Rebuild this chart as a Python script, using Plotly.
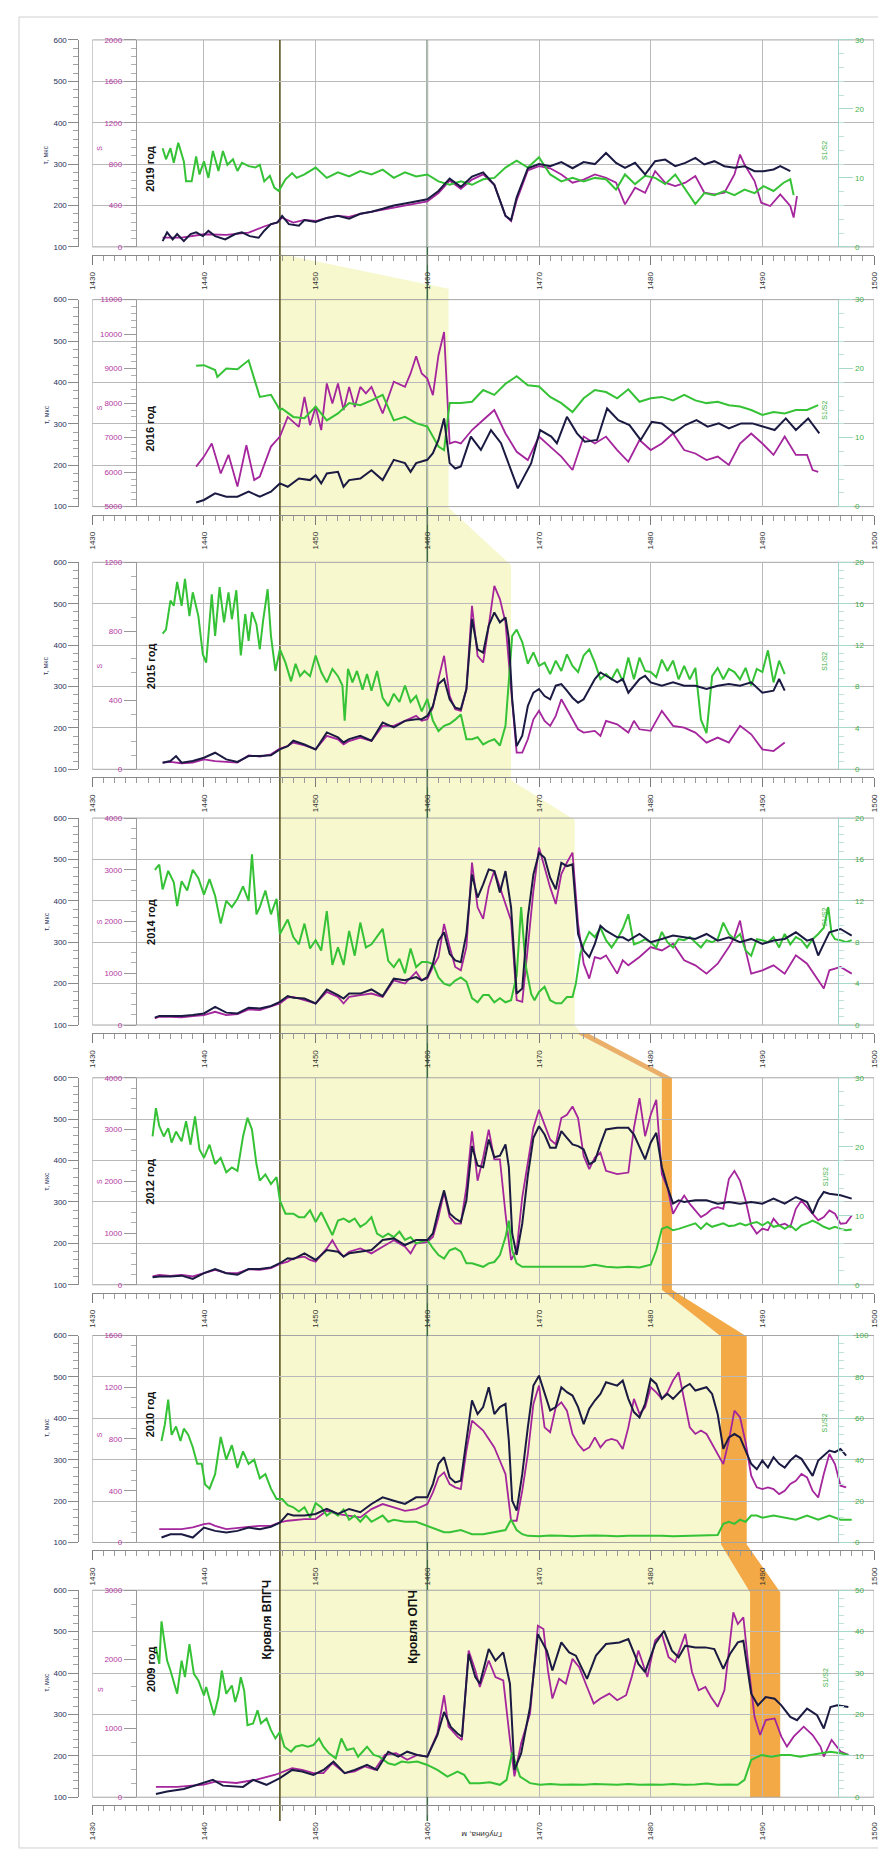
import plotly.graph_objects as go

# ---------------- DATA ----------------
YEARS = ["2019 год", "2016 год", "2015 год", "2014 год", "2012 год", "2010 год", "2009 год"]
S_RANGES = [(0, 2000), (5000, 11000), (0, 1200), (0, 4000), (0, 4000), (0, 1600), (0, 3000)]
S_DTICK = [400, 1000, 400, 1000, 1000, 400, 1000]
G_MAX = [30, 30, 20, 20, 30, 100, 50]
G_DTICK = [10, 10, 4, 4, 10, 20, 10]
TAU_RANGE = (100, 600)
X_RANGE = (1430, 1500)
TOP_VPGCH = 1446.8   # Кровля ВПГЧ
TOP_OPCH = 1460.0    # Кровля ОПЧ

# (depth, tau) navy ; (depth, S) magenta ; (depth, S1/S2) green
T19 = [(1436.3,114),(1436.7,135),(1437.2,118),(1437.6,131),(1438.2,114),(1438.8,131),(1439.3,135),(1439.9,126),(1440.4,139),(1441.0,126),(1441.9,118),(1442.8,131),(1443.4,135),(1444.1,126),(1444.9,122),(1445.4,139),(1446.0,155),(1446.6,159),(1447.0,175),(1447.6,155),(1448.5,151),(1449,165),(1450,160),(1451,170),(1452,175),(1453,168),(1454,180),(1455,185),(1456,192),(1457,200),(1458,205),(1459,210),(1460,215),(1461,235),(1462,265),(1463,245),(1464,270),(1465,280),(1466,250),(1467,175),(1467.5,165),(1468,220),(1469,290),(1470,300),(1471,295),(1472,305),(1473,290),(1474,305),(1475,300),(1476.0,327),(1476.9,303),(1477.7,291),(1478.6,303),(1479.5,275),(1480.4,307),(1481.3,311),(1482.2,295),(1483.1,303),(1484.0,315),(1484.8,299),(1485.7,307),(1486.6,295),(1487.5,291),(1488.4,295),(1489.3,283),(1490.1,283),(1491.0,287),(1491.6,295),(1492.5,283)]
M19 = [(1436.3,90),(1438,90),(1440,122),(1442,116),(1444,138),(1445.5,202),(1446.5,234),(1447,282),(1448,234),(1449,260),(1450,250),(1451,280),(1452,300),(1453,290),(1454,320),(1455,340),(1456,360),(1457,380),(1458,400),(1459,420),(1460,440),(1461,520),(1462,640),(1463,560),(1464,650),(1465,700),(1466,600),(1467,300),(1467.5,250),(1468,450),(1469,740),(1470,780),(1471,760),(1472,700),(1473,620),(1474,650),(1475,700),(1476.0,668),(1476.9,620),(1477.7,411),(1478.6,571),(1479.5,523),(1480.4,732),(1481.3,620),(1482.2,587),(1483.1,620),(1484.0,684),(1484.8,523),(1485.7,507),(1486.6,523),(1487.5,700),(1488.0,892),(1488.4,796),(1489.3,636),(1489.9,427),(1490.7,395),(1491.6,507),(1492.5,395),(1492.8,283),(1493.1,491)]
G19 = [(1436.3,14.3),(1436.6,12.7),(1437.0,14.3),(1437.3,12.2),(1437.7,15.1),(1438.2,12.4),(1438.4,9.5),(1438.9,9.5),(1439.3,13.1),(1439.6,10.5),(1440.0,12.4),(1440.4,10.0),(1440.8,13.9),(1441.3,11.0),(1441.7,13.9),(1442.1,11.9),(1442.6,12.7),(1443.0,11.0),(1443.4,12.2),(1444.0,11.7),(1444.6,11.5),(1445.0,11.9),(1445.4,9.5),(1445.9,10.3),(1446.3,8.6),(1446.7,8.1),(1447.3,9.8),(1447.9,10.7),(1448.3,10.0),(1449,10.5),(1450,11.5),(1451,10.0),(1452,10.8),(1453,10.2),(1454,11.0),(1455,10.5),(1456,11.2),(1457,10.0),(1458,10.8),(1459,10.2),(1460,10.5),(1461,9.5),(1462,9.0),(1463,9.5),(1464,9.0),(1465,9.8),(1466,10.0),(1467,11.5),(1467.5,12.0),(1468,12.5),(1469,11.5),(1470,13.0),(1471,10.5),(1472,9.5),(1473,10.0),(1474,9.5),(1475,10.0),(1476.0,9.8),(1476.9,8.3),(1477.7,10.5),(1478.6,9.1),(1479.5,10.3),(1480.4,10.0),(1481.3,9.1),(1482.2,10.5),(1483.1,8.3),(1484.0,6.2),(1484.8,7.8),(1485.7,7.5),(1486.6,8.1),(1487.5,7.5),(1488.4,8.3),(1489.3,7.8),(1490.1,8.8),(1491.0,8.1),(1491.9,9.3),(1492.5,9.8),(1492.8,7.5)]

T16 = [(1439.3,110),(1440,116),(1441,132),(1442,124),(1443,124),(1444,136),(1445,124),(1446,136),(1446.8,156),(1447.5,148),(1448.5,168),(1449.5,164),(1450,176),(1450.5,156),(1451,180),(1452,184),(1452.5,148),(1453,164),(1454,168),(1455,188),(1456,164),(1457,213),(1458,205),(1458.5,184),(1459,205),(1460,213),(1460.5,229),(1461,261),(1461.5,313),(1462,205),(1462.5,192),(1463,197),(1463.9,269),(1464.8,237),(1465.7,285),(1466.6,253),(1468.1,144),(1469.3,205),(1470.1,285),(1471.1,269),(1471.6,253),(1472.5,317),(1473.4,277),(1474.1,257),(1475.2,261),(1476.1,337),(1477.1,309),(1478.1,297),(1479.1,261),(1480.1,305),(1481.0,301),(1482.1,277),(1483.1,297),(1484.1,309),(1485.1,293),(1486.1,301),(1487.0,289),(1488.1,301),(1489.1,301),(1490.1,293),(1491.1,285),(1492.1,313),(1493.0,285),(1494.1,313),(1495.1,277)]
M16 = [(1439.3,6160),(1440,6450),(1440.7,6830),(1441.5,5960),(1442.2,6500),(1443,5580),(1443.8,6780),(1444.5,5770),(1445,5870),(1446,6740),(1446.8,7030),(1447.5,7600),(1448.5,7310),(1449,8180),(1449.5,7360),(1450,7890),(1450.5,7220),(1451,8570),(1451.5,7990),(1452,8570),(1452.5,7800),(1453,8470),(1453.5,7890),(1454,8470),(1454.5,8280),(1455,8470),(1456,7700),(1457,8620),(1458,8470),(1458.5,8860),(1459,9360),(1459.5,8860),(1460,8710),(1460.5,8230),(1461,9390),(1461.5,10060),(1462,6830),(1462.5,6880),(1463,6830),(1464,7220),(1465,7510),(1466,7800),(1467,7120),(1468,6590),(1469,6350),(1470,7030),(1471,6740),(1472,6450),(1473,6060),(1474,7030),(1475,6830),(1476,7030),(1477,6640),(1478,6300),(1479,6930),(1480,6640),(1481,6830),(1482,7120),(1483,6640),(1484,6540),(1485,6350),(1486,6450),(1487,6210),(1488,6830),(1489,7120),(1490,6830),(1491,6500),(1492,7030),(1493,6500),(1494,6500),(1494.5,6060),(1495,6010)]
G16 = [(1439.3,20.4),(1440,20.5),(1441,19.8),(1441.2,18.8),(1442,20.0),(1443,19.9),(1444,21.2),(1445,15.9),(1446,16.2),(1446.8,14.0),(1447,14.2),(1448,13.0),(1449,12.8),(1450,14.5),(1451,12.5),(1452,13.5),(1453,15.0),(1454,14.7),(1455,15.4),(1456,16.2),(1457,12.5),(1458,13.0),(1459,12.1),(1460,11.6),(1461,8.7),(1461.5,8.2),(1462,15.0),(1463,15.0),(1464,15.2),(1465,16.9),(1466,16.2),(1467,17.8),(1468,18.9),(1469,17.6),(1470,17.4),(1471,15.9),(1472,15.0),(1473,13.7),(1474,15.7),(1475,16.9),(1476,16.6),(1477,15.7),(1478,17.0),(1479,15.2),(1480,15.7),(1481,15.9),(1482,15.4),(1483,16.2),(1484,15.4),(1485,15.0),(1486,15.2),(1487,14.7),(1488,14.5),(1489,14.0),(1490,13.3),(1491,13.7),(1492,13.5),(1493,14.0),(1494,14.0),(1495,14.7)]

T15 = [(1436.3,116),(1437,120),(1437.5,132),(1438,116),(1439,120),(1440,128),(1441,140),(1442,124),(1443,118),(1444,132),(1445,132),(1446,134),(1446.8,148),(1447.5,156),(1448,169),(1449,160),(1450,148),(1451,189),(1452,177),(1452.5,165),(1453,173),(1454,181),(1455,169),(1456,213),(1457,201),(1458,217),(1459,221),(1459.5,221),(1460,229),(1460.5,253),(1461,306),(1461.5,318),(1462,269),(1462.5,249),(1463,245),(1463.5,294),(1464,463),(1464.5,390),(1465,382),(1465.5,447),(1466,479),(1466.5,455),(1467,467),(1467.3,415),(1467.6,269),(1468,156),(1468.5,181),(1469,253),(1469.5,285),(1470,294),(1470.5,277),(1471,269),(1471.5,302),(1472,306),(1472.5,290),(1473,273),(1473.5,261),(1474,269),(1475,318),(1475.5,334),(1476,326),(1477,310),(1477.5,318),(1478,285),(1479,318),(1479.5,326),(1480,310),(1481,302),(1482,310),(1483,302),(1484,302),(1485,294),(1486,302),(1487,306),(1488,302),(1489,310),(1490,285),(1491,290),(1491.5,318),(1492,290)]
M15 = [(1436.3,39),(1437,43),(1438,35),(1439,39),(1440,58),(1441,48),(1442,43),(1443,39),(1444,81),(1445,74),(1446,87),(1446.8,120),(1447.5,135),(1448,155),(1449,139),(1450,116),(1451,194),(1452,174),(1452.5,145),(1453,164),(1454,184),(1455,164),(1456,252),(1457,252),(1458,281),(1459,310),(1459.5,281),(1460,290),(1460.5,358),(1461,523),(1461.5,658),(1462,426),(1462.5,348),(1463,339),(1463.5,464),(1464,948),(1464.5,658),(1465,619),(1465.5,832),(1466,1064),(1466.5,987),(1467,852),(1467.5,464),(1468,97),(1468.5,97),(1469,174),(1469.5,290),(1470,339),(1470.5,281),(1471,252),(1471.5,310),(1472,406),(1472.5,348),(1473,290),(1473.5,232),(1474,213),(1475,223),(1475.5,194),(1476,281),(1477,261),(1478,213),(1478.5,281),(1479,232),(1480,223),(1481,339),(1482,252),(1483,242),(1484,213),(1485,155),(1486,184),(1487,155),(1488,252),(1489,203),(1490,116),(1491,106),(1492,155)]
G15 = [(1436.3,13.1),(1436.6,13.5),(1437,16.3),(1437.3,15.8),(1437.6,18.1),(1438,15.8),(1438.3,18.4),(1438.7,14.8),(1439,17.1),(1439.5,14.8),(1439.9,11.1),(1440.2,10.3),(1440.7,16.9),(1441,12.9),(1441.4,17.6),(1441.8,14.2),(1442.2,17.1),(1442.5,14.5),(1442.9,17.3),(1443.3,11.0),(1443.7,15.0),(1444,12.4),(1444.3,15.2),(1444.7,14.0),(1445,11.6),(1445.3,14.4),(1445.7,17.4),(1446,12.9),(1446.4,9.5),(1446.8,11.6),(1447.3,10.3),(1447.8,8.5),(1448.2,10.2),(1448.6,9.0),(1449,9.5),(1449.5,9.0),(1450,11.0),(1450.5,9.4),(1451,8.4),(1451.5,9.7),(1452,9.0),(1452.4,8.1),(1452.6,4.7),(1452.9,9.7),(1453.3,8.4),(1453.7,9.5),(1454.2,7.7),(1454.6,9.2),(1455,7.6),(1455.5,9.5),(1456,6.9),(1456.5,6.1),(1457,7.3),(1457.5,6.5),(1458,8.1),(1458.5,6.5),(1459,7.1),(1459.5,5.6),(1460,6.8),(1460.5,4.7),(1461,3.7),(1461.5,4.2),(1462,4.4),(1462.5,4.8),(1463,5.3),(1463.5,2.9),(1464,2.9),(1464.5,3.1),(1465,2.4),(1465.5,2.7),(1466,2.9),(1466.5,2.3),(1467,4.2),(1467.3,8.7),(1467.6,12.9),(1468,13.5),(1468.5,12.3),(1469,10.2),(1469.5,11.3),(1470,10.0),(1470.5,10.3),(1471,9.2),(1471.5,10.5),(1472,9.5),(1472.5,11.1),(1473,10.0),(1473.5,9.4),(1474,11.0),(1474.5,11.6),(1475,10.3),(1475.5,8.7),(1476,9.2),(1476.5,8.7),(1477,9.7),(1477.5,8.5),(1478,10.8),(1478.5,8.7),(1479,10.8),(1479.5,9.5),(1480,9.4),(1480.5,8.9),(1481,10.6),(1481.5,9.5),(1482,10.5),(1482.5,8.7),(1483,10.0),(1483.5,8.7),(1484,9.8),(1484.5,4.8),(1485,3.5),(1485.5,9.0),(1486,9.8),(1486.5,8.7),(1487,9.7),(1487.5,9.4),(1488,8.7),(1488.5,9.8),(1489,8.1),(1489.5,9.7),(1490,9.4),(1490.5,11.5),(1491,8.4),(1491.5,10.5),(1492,9.2)]

T14 = [(1435.6,118),(1436,122),(1437,122),(1438,122),(1439,124),(1440,128),(1441,144),(1442,130),(1443,128),(1444,142),(1445,140),(1446,146),(1446.8,156),(1447.5,170),(1448,166),(1449,164),(1450,152),(1451,186),(1452,172),(1452.5,164),(1453,176),(1454,176),(1455,186),(1456,170),(1457,212),(1458,208),(1459,216),(1459.5,208),(1460,216),(1460.5,248),(1461,304),(1461.5,324),(1462,272),(1462.5,256),(1463,252),(1463.5,320),(1464,464),(1464.5,408),(1465,440),(1465.5,476),(1466,472),(1466.5,420),(1467,472),(1467.5,384),(1468,176),(1468.5,188),(1469,360),(1469.5,464),(1470,516),(1470.5,504),(1471,456),(1471.5,428),(1472,492),(1472.5,484),(1473,488),(1473.5,320),(1474,280),(1474.5,264),(1475,296),(1475.5,340),(1476,328),(1477,312),(1477.5,312),(1478,304),(1479,320),(1480,300),(1481,308),(1482,316),(1483,312),(1484,308),(1485,320),(1486,304),(1487,312),(1488,300),(1489,308),(1490,296),(1491,304),(1492,308),(1493,324),(1494,304),(1494.5,308),(1495,268),(1495.5,296),(1496,324),(1497,332),(1498,316)]
M14 = [(1435.6,128),(1436,160),(1437,160),(1438,147),(1439,173),(1440,192),(1441,256),(1442,192),(1443,212),(1444,301),(1445,288),(1446,353),(1446.8,417),(1447.5,532),(1448,545),(1449,481),(1450,417),(1451,641),(1452,545),(1452.5,417),(1453,545),(1454,577),(1455,609),(1456,545),(1457,865),(1458,801),(1459,1026),(1459.5,865),(1460,897),(1460.5,1122),(1461,1314),(1461.5,1955),(1462,1506),(1462.5,1122),(1463,1058),(1463.5,1506),(1464,3141),(1464.5,2276),(1465,2051),(1465.5,2660),(1466,2981),(1466.5,2660),(1467,2340),(1467.5,2019),(1468,481),(1468.5,449),(1469,1506),(1469.5,2596),(1470,3429),(1470.5,3045),(1471,2660),(1471.5,2340),(1472,2917),(1472.5,3141),(1473,3333),(1473.5,1955),(1474,1186),(1474.5,897),(1475,1314),(1475.5,1282),(1476,1346),(1477,994),(1477.5,1250),(1478,1154),(1479,1314),(1480,1506),(1481,1442),(1482,1570),(1483,1250),(1484,1154),(1485,994),(1486,1186),(1487,1506),(1487.5,1699),(1488,2019),(1488.5,1442),(1489,994),(1490,1058),(1491,1154),(1492,994),(1493,1346),(1494,1186),(1495,865),(1495.5,705),(1496,1058),(1497,1122),(1498,994)]
G14 = [(1435.6,15.0),(1436,15.5),(1436.3,13.1),(1436.8,14.9),(1437.3,13.8),(1437.6,11.5),(1438,13.9),(1438.5,13.0),(1439,15.0),(1439.5,14.2),(1440,12.6),(1440.5,14.1),(1441,12.5),(1441.5,9.8),(1442,12.0),(1442.5,11.4),(1443,12.2),(1443.5,13.4),(1444,12.0),(1444.3,16.5),(1444.7,10.7),(1445,11.4),(1445.5,13.0),(1446,10.7),(1446.5,12.2),(1446.8,8.8),(1447.5,10.2),(1448,8.5),(1448.5,7.8),(1449,9.8),(1449.5,7.4),(1450,8.2),(1450.5,7.2),(1451,11.0),(1451.5,5.8),(1452,7.5),(1452.5,5.8),(1453,9.1),(1453.5,6.7),(1454,9.9),(1454.5,7.5),(1455,7.8),(1456,9.3),(1456.5,6.2),(1457,5.6),(1457.5,6.4),(1458,5.0),(1458.5,7.4),(1459,5.6),(1459.5,6.1),(1460,6.1),(1460.5,5.9),(1461,4.6),(1461.5,4.0),(1462,3.8),(1462.5,4.3),(1463,4.6),(1463.5,4.2),(1464,2.6),(1464.5,2.2),(1465,2.9),(1465.5,2.9),(1466,2.2),(1466.5,2.6),(1467,2.2),(1467.5,2.4),(1468,4.8),(1468.4,11.4),(1468.8,5.8),(1469.3,3.0),(1469.6,2.4),(1470,3.2),(1470.5,3.7),(1471,2.4),(1471.5,2.1),(1472,2.1),(1472.5,2.7),(1473,2.7),(1473.3,4.0),(1473.7,6.9),(1474,7.8),(1474.5,9.0),(1475,8.5),(1475.5,9.4),(1476,8.2),(1476.5,7.5),(1477,8.3),(1477.5,9.3),(1478,10.7),(1478.5,7.8),(1479,8.0),(1479.5,8.3),(1480,8.0),(1480.5,7.5),(1481,9.0),(1481.5,8.0),(1482,7.5),(1482.5,8.3),(1483,8.2),(1483.5,8.5),(1484,8.0),(1484.5,7.5),(1485,8.2),(1485.5,8.0),(1486,8.3),(1486.5,9.9),(1487,8.8),(1487.5,8.3),(1488,8.8),(1488.5,7.2),(1489,6.7),(1489.5,8.3),(1490,8.2),(1490.5,8.0),(1491,8.5),(1491.5,7.5),(1492,8.8),(1492.5,7.8),(1493,8.5),(1493.5,8.2),(1494,7.5),(1494.5,8.3),(1495,8.8),(1495.5,9.4),(1495.9,11.4),(1496.2,8.8),(1496.5,8.3),(1497,8.2),(1497.5,8.0),(1498,8.2)]

T12 = [(1435.4,118),(1436,120),(1437,120),(1438,122),(1439,114),(1440,128),(1441,138),(1442,128),(1443,124),(1444,138),(1445,138),(1446,142),(1446.8,152),(1447.5,164),(1448,162),(1449,176),(1450,160),(1451,184),(1452,180),(1452.5,168),(1453,176),(1454,180),(1455,184),(1456,208),(1457,212),(1458,196),(1459,208),(1460,208),(1460.5,224),(1461,280),(1461.5,328),(1462,272),(1462.5,260),(1463,252),(1463.5,304),(1464,435),(1464.5,388),(1465,384),(1465.5,451),(1466,408),(1466.5,412),(1467,439),(1467.3,384),(1467.6,224),(1468,172),(1468.5,248),(1469,364),(1469.5,455),(1470,483),(1470.5,463),(1471,431),(1471.5,431),(1472,471),(1472.5,455),(1473,439),(1473.5,435),(1474,427),(1474.5,391),(1475,399),(1475.5,439),(1476,475),(1477,479),(1478,479),(1478.5,463),(1479,431),(1479.5,403),(1480,443),(1480.5,467),(1481,384),(1481.5,336),(1482,296),(1482.5,304),(1483,300),(1484,304),(1485,304),(1486,296),(1487,300),(1488,296),(1489,300),(1490,296),(1491,308),(1492,296),(1493,312),(1494,300),(1494.5,272),(1495,304),(1495.5,324),(1496,320),(1497,316),(1498,308)]
M12 = [(1435.4,160),(1436,191),(1437,172),(1438,191),(1439,160),(1440,223),(1441,287),(1442,223),(1443,223),(1444,300),(1445,287),(1446,319),(1446.8,402),(1447.5,447),(1448,510),(1449,542),(1449.5,479),(1450,447),(1451,702),(1451.5,861),(1452,670),(1452.5,542),(1453,638),(1454,702),(1455,606),(1456,734),(1457,861),(1458,734),(1458.5,606),(1459,797),(1460,829),(1460.5,925),(1461,1308),(1461.5,1786),(1462,1308),(1462.5,1180),(1463,1180),(1463.5,1882),(1464,2967),(1464.5,2010),(1465,2456),(1465.5,2999),(1466,2424),(1466.5,2424),(1467,1372),(1467.5,479),(1468,670),(1468.5,1691),(1469,2393),(1469.5,3031),(1470,3381),(1470.5,3094),(1471,2807),(1471.5,2712),(1472,3222),(1472.5,3286),(1473,3445),(1473.5,3222),(1474,2488),(1474.5,2233),(1475,2456),(1475.5,2552),(1476,2201),(1477,2137),(1478,2169),(1478.5,3031),(1479,3605),(1479.5,2871),(1480,3286),(1480.5,3573),(1481,2137),(1481.5,1882),(1482,1372),(1482.5,1563),(1483,1723),(1483.5,1563),(1484,1436),(1484.5,1308),(1485,1372),(1485.5,1468),(1486,1500),(1486.5,1468),(1487,2042),(1487.5,2201),(1488,2010),(1488.5,1627),(1489,1148),(1489.5,989),(1490,1085),(1490.5,1053),(1491,1276),(1491.5,1148),(1492,1180),(1492.5,1117),(1493,1468),(1493.5,1627),(1494,1500),(1494.5,1372),(1495,1244),(1495.5,1308),(1496,1436),(1496.5,1372),(1497,1180),(1497.5,1193),(1498,1340)]
G12 = [(1435.4,21.5),(1435.7,25.6),(1436,23.0),(1436.4,21.5),(1436.8,22.7),(1437.1,20.6),(1437.5,22.2),(1438,20.8),(1438.4,23.7),(1438.8,20.3),(1439.2,24.4),(1439.6,19.6),(1440,18.4),(1440.5,20.3),(1441,17.5),(1441.5,18.4),(1442,16.3),(1442.5,17.0),(1443,16.5),(1443.5,21.5),(1443.9,24.2),(1444.3,22.5),(1444.7,17.5),(1445,15.1),(1445.5,16.0),(1446,14.6),(1446.5,15.6),(1446.8,12.2),(1447.3,10.3),(1448,10.3),(1448.5,9.8),(1449,9.8),(1449.5,10.8),(1450,9.1),(1450.5,10.5),(1451,8.9),(1451.5,7.2),(1452,9.3),(1452.5,9.6),(1453,9.1),(1453.5,9.6),(1454,8.4),(1454.5,8.9),(1455,9.8),(1455.5,7.4),(1456,6.9),(1456.5,7.4),(1457,6.9),(1457.5,7.7),(1458,6.5),(1458.5,6.9),(1459,6.0),(1459.5,6.2),(1460,6.5),(1460.5,5.3),(1461,4.3),(1461.5,3.8),(1462,5.0),(1462.5,5.3),(1463,4.8),(1463.5,3.1),(1464,3.1),(1465,2.6),(1465.5,3.1),(1466,3.3),(1466.5,4.3),(1467,6.9),(1467.3,9.3),(1467.6,5.0),(1468,3.1),(1468.5,2.6),(1469,2.6),(1470,2.6),(1471,2.5),(1472,2.6),(1473,2.5),(1474,2.6),(1475,2.9),(1476,2.6),(1477,2.5),(1478,2.6),(1479,2.5),(1480,2.9),(1480.5,5.0),(1481,8.1),(1481.5,8.4),(1482,7.9),(1482.5,8.1),(1483,8.4),(1483.5,8.6),(1484,8.9),(1484.5,8.1),(1485,8.9),(1485.5,8.4),(1486,8.6),(1486.5,8.9),(1487,8.5),(1487.5,8.6),(1488,8.9),(1488.5,8.6),(1489,8.9),(1489.5,9.1),(1490,8.6),(1490.5,9.1),(1491,8.4),(1491.5,8.6),(1492,8.1),(1492.5,8.6),(1493,7.9),(1493.5,8.6),(1494,8.9),(1494.5,9.3),(1495,8.9),(1495.5,8.4),(1496,8.1),(1496.5,8.4),(1497,8.1),(1497.5,7.9),(1498,8.0)]

T10 = [(1436.2,112),(1437,120),(1438,120),(1439,112),(1440,136),(1441,128),(1442,124),(1443,128),(1444,136),(1445,132),(1446,138),(1446.8,148),(1447.5,169),(1448,165),(1449,165),(1450,169),(1451,181),(1452,169),(1453,181),(1454,173),(1455,193),(1456,209),(1457,201),(1458,193),(1459,209),(1460,209),(1460.5,241),(1461,290),(1461.5,306),(1462,257),(1462.5,245),(1463,249),(1463.5,346),(1464,443),(1464.5,410),(1465,427),(1465.5,475),(1466,410),(1466.5,427),(1467,435),(1467.3,346),(1467.6,201),(1468,177),(1468.5,265),(1469,378),(1469.5,479),(1470,503),(1470.5,459),(1471,419),(1471.5,427),(1472,475),(1472.5,463),(1473,455),(1473.5,427),(1474,386),(1474.5,423),(1475,443),(1475.5,459),(1476,487),(1477,479),(1477.5,491),(1478,447),(1478.5,415),(1479,402),(1479.5,435),(1480,495),(1480.5,483),(1481,447),(1481.5,459),(1482,447),(1483,475),(1483.5,483),(1484,467),(1485,475),(1485.5,459),(1486,410),(1486.5,326),(1487,354),(1487.5,362),(1488,354),(1488.5,322),(1489,290),(1489.5,277),(1490,298),(1490.5,281),(1491,306),(1491.5,290),(1492,281),(1492.5,298),(1493,310),(1493.5,302),(1494,281),(1494.5,261),(1495,298),(1495.5,310),(1496,322),(1496.5,318),(1497,326),(1497.5,310)]
M10 = [(1436,103),(1437,103),(1438,103),(1439,116),(1440,142),(1440.5,147),(1441,129),(1442,103),(1443,111),(1444,116),(1445,129),(1446,129),(1446.8,155),(1447.5,168),(1448,173),(1449,181),(1450,181),(1451,245),(1452,219),(1453,206),(1454,194),(1455,258),(1456,297),(1457,271),(1458,245),(1459,258),(1460,297),(1460.5,387),(1461,503),(1461.5,542),(1462,452),(1462.5,426),(1463,413),(1463.5,710),(1464,942),(1464.5,903),(1465,865),(1465.5,800),(1466,735),(1466.5,632),(1467,529),(1467.5,168),(1468,168),(1468.5,400),(1469,684),(1469.5,1071),(1470,1213),(1470.5,890),(1471,852),(1471.5,1045),(1472,1084),(1472.5,1019),(1473,839),(1473.5,761),(1474,710),(1474.5,735),(1475,813),(1475.5,735),(1476,787),(1476.5,800),(1477,787),(1477.5,723),(1478,890),(1478.5,1110),(1479,994),(1479.5,1045),(1480,1200),(1480.5,1161),(1481,1110),(1481.5,1161),(1482,1252),(1482.5,1316),(1483,1110),(1483.5,890),(1484,839),(1484.5,865),(1485,839),(1485.5,761),(1486,684),(1486.5,606),(1487,787),(1487.5,1019),(1488,968),(1488.5,774),(1489,516),(1489.5,426),(1490,413),(1490.5,426),(1491,413),(1491.5,374),(1492,400),(1492.5,452),(1493,477),(1493.5,529),(1494,503),(1494.5,400),(1495,348),(1495.5,529),(1496,684),(1496.5,606),(1497,439),(1497.5,426)]
G10 = [(1436.2,49),(1436.5,57),(1436.8,69),(1437.1,52),(1437.5,56),(1437.9,49),(1438.2,55),(1438.6,52),(1439,46),(1439.4,38),(1439.8,38),(1440.1,28),(1440.5,26),(1441,33),(1441.5,51),(1442,40),(1442.5,47),(1443,36),(1443.5,44),(1444,38),(1444.5,40),(1445,31),(1445.5,33),(1446,26),(1446.5,21),(1447,21),(1447.5,18),(1448,17),(1448.5,15),(1449,17),(1449.5,12),(1450,19),(1450.5,17),(1451,13),(1451.5,15),(1452,13),(1452.5,16),(1453,11),(1453.5,13),(1454,10),(1454.5,13),(1455,10),(1456,13),(1456.5,10),(1457,11),(1458,10),(1459,10),(1460,8),(1461,6),(1461.5,5),(1462,5),(1463,6),(1463.5,5),(1464,4),(1465,4),(1466,5),(1467,6),(1467.5,11),(1468,6),(1468.5,4),(1469,3.2),(1470,3.0),(1471,3.4),(1472,3.2),(1473,3.0),(1474,3.2),(1475,3.4),(1476,3.2),(1477,3.0),(1478,3.2),(1479,3.2),(1480,3.4),(1481,3.2),(1482,3.0),(1483,3.2),(1484,3.2),(1485,3.4),(1486,3.6),(1486.5,9),(1487,10),(1487.5,9),(1488,11),(1488.5,10),(1489,13),(1489.5,13),(1490,12),(1491,13),(1492,12),(1493,11),(1494,13),(1495,11),(1496,13),(1497,11),(1498,11)]

T09 = [(1435.7,108),(1436.7,114),(1438.2,120),(1440.0,134),(1440.8,142),(1441.7,128),(1443.5,125),(1444.4,142),(1445.6,130),(1446.8,146),(1447.9,166),(1448.8,162),(1449.8,154),(1450.7,166),(1451.6,186),(1452.6,158),(1453.5,166),(1454.6,178),(1455.5,166),(1456.5,210),(1457.4,198),(1458.2,210),(1459.1,202),(1460,198),(1460.9,250),(1461.5,306),(1462.1,270),(1462.7,254),(1463.1,246),(1463.7,446),(1464.3,390),(1464.7,374),(1465.5,458),(1466.1,430),(1466.8,450),(1467.4,374),(1467.8,166),(1468.4,206),(1469.2,318),(1469.9,494),(1470.7,454),(1471.2,406),(1472.0,474),(1472.7,450),(1473.3,442),(1474.3,386),(1475.1,442),(1476.0,470),(1477.2,474),(1478.0,482),(1478.9,422),(1479.5,402),(1480.4,470),(1481.2,502),(1481.9,454),(1482.5,438),(1483.1,466),(1484.0,462),(1484.9,462),(1485.7,458),(1486.5,410),(1487.1,446),(1487.8,474),(1488.3,478),(1489.0,350),(1489.6,322),(1490.3,342),(1491.1,338),(1491.7,322),(1492.5,294),(1493.1,286),(1494.0,314),(1494.9,298),(1495.5,266),(1496.1,318),(1496.7,322),(1497.7,318)]
M09 = [(1435.7,149),(1437.6,149),(1440.0,182),(1441.1,230),(1442.9,206),(1444.7,254),(1446.4,326),(1447.9,422),(1448.8,398),(1449.8,350),(1450.7,350),(1451.5,494),(1452.6,350),(1453.5,374),(1454.4,446),(1455.3,398),(1456.2,614),(1457.2,638),(1458.2,542),(1459.1,614),(1460,590),(1460.9,926),(1461.5,1478),(1461.9,1022),(1462.7,878),(1463.1,830),(1463.7,2127),(1464.3,1838),(1464.7,1598),(1465.5,1982),(1466.1,1742),(1466.8,1694),(1467.4,830),(1467.8,302),(1468.4,782),(1469.2,1214),(1469.9,2486),(1470.4,2438),(1470.8,1838),(1471.2,1430),(1471.8,1718),(1472.4,1646),(1473.0,2006),(1473.6,1886),(1474.3,1598),(1474.9,1358),(1475.5,1430),(1476.3,1502),(1477.0,1406),(1477.8,1478),(1478.3,1742),(1478.9,2127),(1479.7,1742),(1480.4,2271),(1481.0,2367),(1481.6,2031),(1482.2,1958),(1483.1,2367),(1483.7,1815),(1484.3,1550),(1484.9,1598),(1485.4,1454),(1486.0,1310),(1486.6,1550),(1487.4,2679),(1487.8,2511),(1488.3,2607),(1488.7,1982),(1489.3,1166),(1489.8,902),(1490.3,1118),(1491.1,1142),(1491.7,878),(1492.2,734),(1492.8,878),(1493.7,1022),(1494.5,902),(1495.2,734),(1495.5,590),(1496.2,830),(1497.0,662),(1497.7,614)]
G09 = [(1435.7,36.2),(1436.0,32.2),(1436.2,42.5),(1436.5,37.4),(1436.7,33.0),(1437.0,30.6),(1437.6,25.0),(1438.0,33.0),(1438.3,29.0),(1438.7,37.0),(1439.1,29.8),(1439.5,28.2),(1440.0,24.6),(1440.2,26.6),(1440.7,21.4),(1440.9,19.8),(1441.3,24.2),(1441.6,30.6),(1442.0,25.0),(1442.5,27.0),(1442.8,23.0),(1443.1,25.8),(1443.3,29.0),(1443.6,25.8),(1443.9,17.4),(1444.4,17.8),(1444.8,21.0),(1445.1,17.8),(1445.6,19.0),(1446.0,16.2),(1446.4,14.2),(1446.8,15.8),(1447.2,12.2),(1447.8,11.0),(1448.2,12.2),(1448.8,12.6),(1449.3,12.2),(1449.8,12.6),(1450.3,14.2),(1450.7,12.2),(1451.2,10.6),(1451.8,9.4),(1452.3,14.2),(1452.8,11.4),(1453.4,11.8),(1453.8,9.8),(1454.6,12.2),(1455.2,10.2),(1455.7,9.8),(1456.5,8.2),(1457.1,7.8),(1457.7,8.6),(1458.3,8.4),(1459.1,8.6),(1460,7.8),(1460.9,6.6),(1461.8,5.0),(1462.7,6.2),(1463.3,5.4),(1463.8,3.4),(1464.7,3.4),(1465.6,3.6),(1466.5,3.0),(1467.1,4.2),(1467.6,10.8),(1468.3,5.0),(1469.2,3.4),(1470.1,3.0),(1471,3.2),(1472,3.0),(1473,3.1),(1474,3.0),(1475,3.2),(1476,3.1),(1477,3.0),(1478,3.2),(1479,3.0),(1480,3.1),(1481,3.0),(1482,3.2),(1483,3.0),(1484,3.1),(1485,3.3),(1486,3.0),(1487,3.1),(1487.8,3.0),(1488.4,4.2),(1489.0,9.0),(1489.9,10.2),(1490.8,9.8),(1491.7,10.2),(1492.5,10.2),(1493.4,9.8),(1494.3,10.2),(1495.2,10.6),(1496.1,11.0),(1497.0,10.6),(1497.7,10.2)]

TAU = [T19, T16, T15, T14, T12, T10, T09]
SVAL = [M19, M16, M15, M14, M12, M10, M09]
GVAL = [G19, G16, G15, G14, G12, G10, G09]

# zone outlines: (depth, pixel row)
YELLOW_ZONE = [(1446.8,243),(1461.9,278),(1461.9,498),(1467.5,556),(1467.5,772),(1473.2,812),(1473.2,1018),(1474.0,1030),(1481.0,1071),(1481.0,1284),(1486.3,1331),(1486.3,1540),(1488.9,1588),(1488.9,1794),(1446.8,1794)]
ORANGE_ZONE = [(1481.0,1071),(1481.9,1071),(1481.9,1284),(1488.6,1331),(1488.6,1540),(1491.6,1588),(1491.6,1794),(1488.9,1794),(1488.9,1588),(1486.3,1540),(1486.3,1331),(1481.0,1284)]
ORANGE_EDGE = [(1473.5,1027),(1474.5,1027),(1481.9,1071),(1481.0,1071)]

# ---------------- LAYOUT GEOMETRY ----------------
W, H = 886, 1849
ML = MR = MT = MB = 10
PW, PHT = W - ML - MR, H - MT - MB
TOPS = [28, 289, 553, 810, 1071, 1330, 1586]
PANEL_H = 208

def fx(px):
    return (px - ML) / PW

def fy(py):
    return (H - MB - py) / PHT

def ax_name(letter, n):
    return f"{letter}axis" if n == 1 else f"{letter}axis{n}"

def ax_ref(letter, n):
    return letter if n == 1 else f"{letter}{n}"

FONT = "Liberation Sans, Arial, sans-serif"
C_TAU = "#1a1a42"
C_S = "#a4259c"
C_G = "#36c236"
C_SLAB = "#b4379f"
C_GLAB = "#3fb24a"
C_TLAB = "#28305a"
GRID = "#b9b9b9"

fig = go.Figure()
layout = dict(
    width=W, height=H,
    margin=dict(l=ML, r=MR, t=MT, b=MB),
    paper_bgcolor="white", plot_bgcolor="rgba(0,0,0,0)",
    showlegend=False, font=dict(family=FONT, size=8, color="#333"),
)
annotations = []
shapes = []

for k in range(7):
    T = TOPS[k]
    B = T + PANEL_H
    xi = k + 1
    ys, yg, yt = 3 * k + 1, 3 * k + 2, 3 * k + 3
    dom = [fy(B), fy(T)]
    layout[ax_name("x", xi)] = dict(
        domain=[fx(81), fx(871)], range=list(X_RANGE), anchor="free", position=fy(B + 8),
        tick0=1430, dtick=10, ticks="outside", ticklen=9, tickcolor="#7a7a7a",
        minor=dict(dtick=1, ticks="outside", ticklen=5, tickcolor="#9a9a9a", showgrid=False),
        showline=True, linecolor="#8a8a8a", linewidth=1,
        showgrid=True, gridcolor=GRID, gridwidth=1, zeroline=False,
        tickangle=-90, tickfont=dict(size=8, color="#333", family=FONT),
        ticklabelstandoff=4, fixedrange=True,
    )
    s0, s1 = S_RANGES[k]
    layout[ax_name("y", ys)] = dict(
        domain=dom, range=[s0, s1], anchor="free", position=fx(125), side="left",
        tick0=s0, dtick=S_DTICK[k], tickformat="d", ticks="outside", ticklen=12, tickcolor="#9a9a9a",
        minor=dict(dtick=S_DTICK[k] / 5, ticks="outside", ticklen=5, tickcolor="#b0b0b0"),
        showline=True, linecolor="#9a9a9a", showgrid=False, zeroline=False,
        tickfont=dict(size=8, color=C_SLAB, family=FONT), fixedrange=True,
    )
    layout[ax_name("y", yg)] = dict(
        overlaying=ax_ref("y", ys), range=[0, G_MAX[k]], anchor="free", position=fx(835),
        side="right", tick0=0, dtick=G_DTICK[k], tickformat="d", ticks="outside", ticklen=14,
        tickcolor="#a8d8cc",
        minor=dict(dtick=G_DTICK[k] / 5, ticks="outside", ticklen=5, tickcolor="#bfe3da"),
        showline=True, linecolor="#9fd6c9", showgrid=False, zeroline=False,
        tickfont=dict(size=8, color=C_GLAB, family=FONT), fixedrange=True,
    )
    layout[ax_name("y", yt)] = dict(
        overlaying=ax_ref("y", ys), range=list(TAU_RANGE), anchor="free", position=fx(67),
        side="left", tick0=100, dtick=100, tickformat="d", ticks="outside", ticklen=10,
        tickcolor="#8a8a8a",
        minor=dict(dtick=20, ticks="outside", ticklen=5, tickcolor="#a0a0a0"),
        showline=True, linecolor="#8a8a8a", showgrid=True, gridcolor=GRID, gridwidth=1,
        zeroline=False, tickfont=dict(size=8, color=C_TLAB, family=FONT), fixedrange=True,
    )
    xr = ax_ref("x", xi)
    # traces: S (main), S1/S2, tau (on top)
    for data, yn, col, wdt in ((SVAL[k], ys, C_S, 1.8), (GVAL[k], yg, C_G, 2.0), (TAU[k], yt, C_TAU, 2.0)):
        fig.add_trace(go.Scatter(
            x=[p[0] for p in data], y=[p[1] for p in data], xaxis=xr, yaxis=ax_ref("y", yn),
            mode="lines", line=dict(color=col, width=wdt), hoverinfo="skip",
        ))
    # frame
    shapes.append(dict(type="rect", xref="x", yref="paper", x0=1430, x1=1500, y0=fy(B), y1=fy(T),
                       line=dict(color="#a5a5a5", width=1), layer="below"))
    mid = fy(T + 104)
    annotations += [
        dict(x=fx(29), y=mid, xref="paper", yref="paper", text="τ, мкс", textangle=-90,
             showarrow=False, font=dict(size=7, color=C_TLAB, family=FONT)),
        dict(x=fx(83), y=mid, xref="paper", yref="paper", text="S", textangle=-90,
             showarrow=False, font=dict(size=7, color=C_SLAB, family=FONT)),
        dict(x=fx(827), y=fy(T + 100), xref="paper", yref="paper", text="S1/S2", textangle=-90,
             showarrow=False, font=dict(size=7, color=C_GLAB, family=FONT)),
        dict(x=1435.2, y=mid, xref="x", yref="paper", text=f"<b>{YEARS[k]}</b>", textangle=-90,
             showarrow=False, font=dict(size=11, color="#111", family=FONT)),
    ]

def poly_path(pts):
    return "M " + " L ".join(f"{d},{fy(py)}" for d, py in pts) + " Z"

shapes = [
    dict(type="rect", xref="paper", yref="paper", x0=fx(7), x1=fx(882), y0=fy(1845), y1=fy(5),
         line=dict(color="#d0d0d0", width=1), layer="below"),
    dict(type="path", xref="x", yref="paper", path=poly_path(YELLOW_ZONE),
         fillcolor="#f7f8cd", line=dict(width=0), layer="below"),
    dict(type="path", xref="x", yref="paper", path=poly_path(ORANGE_ZONE),
         fillcolor="#f3a945", line=dict(width=0), layer="below"),
    dict(type="path", xref="x", yref="paper", path=poly_path(ORANGE_EDGE),
         fillcolor="#eab06a", line=dict(width=0), layer="below"),
] + shapes + [
    dict(type="line", xref="x", yref="paper", x0=TOP_VPGCH, x1=TOP_VPGCH, y0=fy(1818), y1=fy(28),
         line=dict(color="#5c5524", width=1.6), layer="below"),
    dict(type="line", xref="x", yref="paper", x0=TOP_OPCH, x1=TOP_OPCH, y0=fy(1818), y1=fy(28),
         line=dict(color="#3f6a48", width=1.6), layer="below"),
]

annotations += [
    dict(x=1445.6, y=fy(1657), xref="x", yref="paper", text="<b>Кровля ВПГЧ</b>", textangle=-90,
         showarrow=False, font=dict(size=12, color="#111", family=FONT)),
    dict(x=1458.7, y=fy(1662), xref="x", yref="paper", text="<b>Кровля ОПЧ</b>", textangle=-90,
         showarrow=False, font=dict(size=12, color="#111", family=FONT)),
    dict(x=1464.9, y=fy(1838), xref="x", yref="paper", text="Глубина, м", textangle=180,
         showarrow=False, font=dict(size=8, color="#333", family=FONT)),
]

layout["shapes"] = shapes
layout["annotations"] = annotations
fig.update_layout(**layout)
fig.write_html("out.html")
